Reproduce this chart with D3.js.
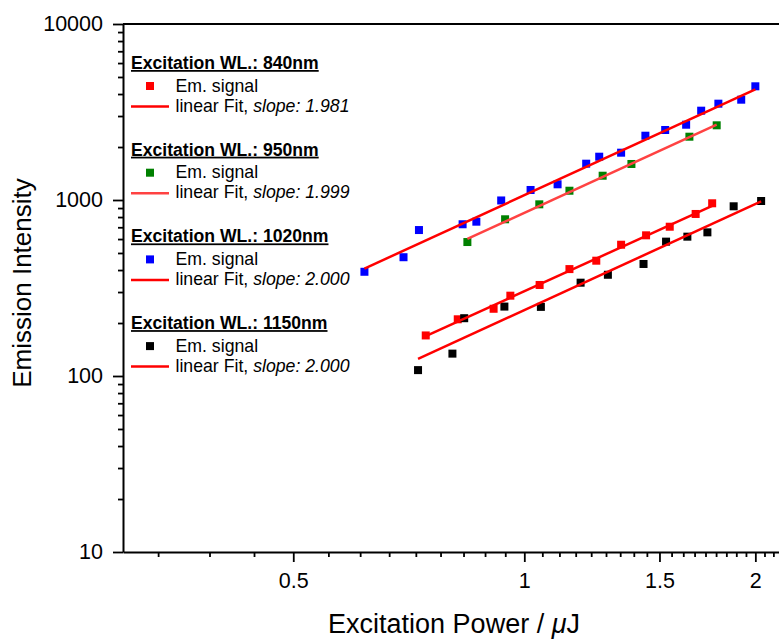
<!DOCTYPE html>
<html>
<head>
<meta charset="utf-8">
<script src="https://cdn.jsdelivr.net/npm/d3@7"></script>
<style>
  body { margin: 0; background: #fff; }
  text { font-family: "Liberation Sans", Arial, sans-serif; fill: #000; }
</style>
</head>
<body>
<div id="chart"></div>
<script>
// data: x = excitation power (uJ), y = emission intensity
var wl = ["840nm", "950nm", "1020nm", "1150nm"];
var markerColors = ["#ff0000", "#008000", "#0000ff", "#000000"];
var fitColors = ["#ff0000", "#ff4242", "#ff0000", "#ff0000"];
var slopes = [1.981, 1.999, 2.000, 2.000];
var fitCoef = [303, 845, 1064, 237];
var fitStart = [0.744, 0.843, 0.619, 0.727];
var fitEnd = [1.757, 1.781, 2.000, 2.035];

var x840 = [0.744, 0.819, 0.912, 0.959, 1.047, 1.145, 1.241, 1.337, 1.441, 1.547, 1.672, 1.757];
var y840 = [170, 210, 241, 286, 329, 405, 452, 557, 630, 705, 833, 958];
var x950 = [0.843, 0.944, 1.046, 1.145, 1.265, 1.379, 1.641, 1.781];
var y950 = [577, 777, 945, 1129, 1374, 1602, 2289, 2657];
var x1020 = [0.619, 0.696, 0.729, 0.831, 0.866, 0.933, 1.019, 1.105, 1.204, 1.252, 1.337, 1.438, 1.526, 1.625, 1.700, 1.790, 1.917, 2.000];
var y1020 = [391, 473, 675, 728, 753, 994, 1140, 1228, 1608, 1762, 1857, 2319, 2499, 2678, 3217, 3526, 3715, 4426];
var x1150 = [0.727, 0.806, 0.835, 0.942, 1.051, 1.184, 1.285, 1.430, 1.530, 1.631, 1.732, 1.874, 2.035];
var y1150 = [108, 134, 213, 248, 247, 339, 376, 433, 580, 619, 655, 921, 987];

var xTicks = [0.5, 1, 1.5, 2];
var xTickLabels = ["0.5", "1", "1.5", "2"];
var yTicks = [10, 100, 1000, 10000];
var yTickLabels = ["10", "100", "1000", "10000"];

var xsAll = [x840, x950, x1020, x1150];
var ysAll = [y840, y950, y1020, y1150];

var svgWidth = 779, svgHeight = 639;
var plotLeft = 123, plotRight = 781, plotTop = 24, plotBottom = 552;

var svg = d3.select("#chart").append("svg")
    .attr("width", svgWidth)
    .attr("height", svgHeight);

var xScale = d3.scaleLog().domain([0.3, 2.16]).range([plotLeft, plotRight]);
var yScale = d3.scaleLog().domain([10, 10000]).range([plotBottom, plotTop]);

// minor tick positions
var xMinor = d3.range(6, 39).filter(k => k % 9 !== 0).map(k => k / 18);
var yMinor = [];
[10, 100, 1000].forEach(function(d) {
  for (var m = 2; m <= 9; m++) yMinor.push(d * m);
});

// frame top line
svg.append("line")
    .attr("x1", plotLeft).attr("x2", plotRight)
    .attr("y1", plotTop).attr("y2", plotTop)
    .attr("stroke", "#000").attr("stroke-width", 2);

// x axis minor
svg.append("g")
    .attr("transform", `translate(0, ${plotBottom})`)
    .call(d3.axisBottom(xScale).tickValues(xMinor).tickSize(5).tickFormat(""))
    .call(g => g.select(".domain").remove())
    .selectAll("line").attr("stroke-width", 1.8);

// y axis minor
svg.append("g")
    .attr("transform", `translate(${plotLeft}, 0)`)
    .call(d3.axisLeft(yScale).tickValues(yMinor).tickSize(5).tickFormat(""))
    .call(g => g.select(".domain").remove())
    .selectAll("line").attr("stroke-width", 1.8);

// x axis major
var xAxis = svg.append("g")
    .attr("transform", `translate(0, ${plotBottom})`)
    .call(d3.axisBottom(xScale).tickValues(xTicks).tickSize(10).tickSizeOuter(0)
      .tickPadding(11).tickFormat((d, i) => xTickLabels[i]));
xAxis.select(".domain").attr("stroke-width", 2);
xAxis.selectAll("line").attr("stroke-width", 1.8);
xAxis.selectAll("text").style("font-size", "21.5px")
    .style("font-family", "'Liberation Sans', Arial, sans-serif");

// y axis major
var yAxis = svg.append("g")
    .attr("transform", `translate(${plotLeft}, 0)`)
    .call(d3.axisLeft(yScale).tickValues(yTicks).tickSize(10).tickSizeOuter(0)
      .tickPadding(10).tickFormat((d, i) => yTickLabels[i]));
yAxis.select(".domain").attr("stroke-width", 2);
yAxis.selectAll("line").attr("stroke-width", 1.8);
yAxis.selectAll("text").style("font-size", "21.5px")
    .style("font-family", "'Liberation Sans', Arial, sans-serif");

// points
var ms = 8;
xsAll.forEach(function(xs, s) {
  svg.append("g").selectAll("rect")
      .data(xs.map((v, i) => [v, ysAll[s][i]]))
      .enter()
      .append("rect")
      .attr("x", d => xScale(d[0]) - ms / 2)
      .attr("y", d => yScale(d[1]) - ms / 2)
      .attr("width", ms)
      .attr("height", ms)
      .attr("fill", markerColors[s]);
});

// fit lines
var line = d3.line().x(d => xScale(d[0])).y(d => yScale(d[1]));
wl.forEach(function(w, s) {
  var pts = [fitStart[s], fitEnd[s]].map(v => [v, fitCoef[s] * Math.pow(v, slopes[s])]);
  svg.append("path")
      .attr("d", line(pts))
      .attr("fill", "none")
      .attr("stroke", fitColors[s])
      .attr("stroke-width", 2.5);
});

// legend
wl.forEach(function(w, s) {
  var y0 = 69 + s * 86.7;
  svg.append("text")
      .attr("x", 131).attr("y", y0)
      .style("font-size", "17.6px")
      .style("font-weight", "bold")
      .style("text-decoration", "underline")
      .text("Excitation WL.: " + w);
  svg.append("rect")
      .attr("x", 150 - ms / 2).attr("y", y0 + 17 - ms / 2)
      .attr("width", ms).attr("height", ms)
      .attr("fill", markerColors[s]);
  svg.append("text")
      .attr("x", 175.5).attr("y", y0 + 22.5)
      .style("font-size", "17.7px")
      .text("Em. signal");
  svg.append("line")
      .attr("x1", 131).attr("x2", 169)
      .attr("y1", y0 + 37.5).attr("y2", y0 + 37.5)
      .attr("stroke", fitColors[s]).attr("stroke-width", 2.5);
  var t = svg.append("text")
      .attr("x", 175.5).attr("y", y0 + 42.5)
      .style("font-size", "17.7px");
  t.append("tspan").text("linear Fit, ");
  t.append("tspan").style("font-style", "italic").text("slope: " + slopes[s].toFixed(3));
});

// axis titles
var xt = svg.append("text")
    .attr("x", 454).attr("y", 633)
    .attr("text-anchor", "middle")
    .style("font-size", "27px");
xt.append("tspan").text("Excitation Power / ");
xt.append("tspan").style("font-style", "italic").text("\u03bc");
xt.append("tspan").text("J");

svg.append("text")
    .attr("transform", "rotate(-90)")
    .attr("x", -283).attr("y", 31)
    .attr("text-anchor", "middle")
    .style("font-size", "26px")
    .text("Emission Intensity");
</script>
</body>
</html>
